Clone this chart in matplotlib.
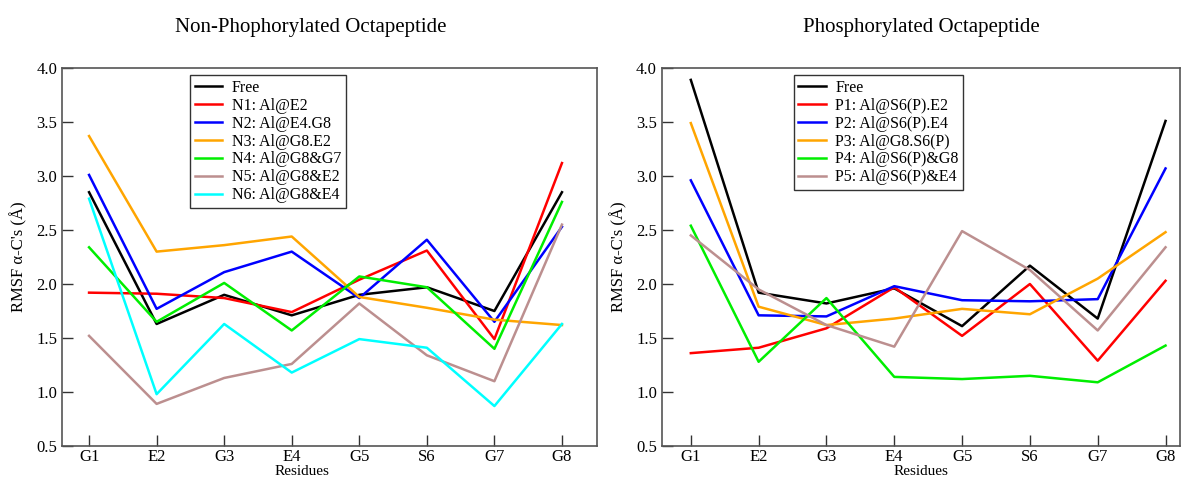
import matplotlib
matplotlib.use("Agg")
import matplotlib.pyplot as plt

plt.rcParams['font.family'] = ['Liberation Serif', 'DejaVu Serif']

residues = ["G1", "E2", "G3", "E4", "G5", "S6", "G7", "G8"]

# non-phosphorylated
free_n = [2.85, 1.63, 1.90, 1.71, 1.90, 1.97, 1.75, 2.85]
n1 = [1.92, 1.91, 1.87, 1.74, 2.04, 2.31, 1.49, 3.12]
n2 = [3.01, 1.77, 2.11, 2.30, 1.87, 2.41, 1.65, 2.53]
n3 = [3.37, 2.30, 2.36, 2.44, 1.88, 1.78, 1.67, 1.62]
n4 = [2.34, 1.65, 2.01, 1.57, 2.07, 1.97, 1.40, 2.76]
n5 = [1.52, 0.89, 1.13, 1.26, 1.82, 1.34, 1.10, 2.55]
n6 = [2.79, 0.98, 1.63, 1.18, 1.49, 1.41, 0.87, 1.63]

# phosphorylated
free_p = [3.89, 1.92, 1.82, 1.96, 1.61, 2.17, 1.68, 3.51]
p1 = [1.36, 1.41, 1.59, 1.97, 1.52, 2.00, 1.29, 2.03]
p2 = [2.96, 1.71, 1.70, 1.98, 1.85, 1.84, 1.86, 3.07]
p3 = [3.49, 1.79, 1.62, 1.68, 1.77, 1.72, 2.05, 2.48]
p4 = [2.54, 1.28, 1.87, 1.14, 1.12, 1.15, 1.09, 1.43]
p5 = [2.45, 1.95, 1.62, 1.42, 2.49, 2.13, 1.57, 2.34]

labels_n = ["Free", "N1: Al@E2", "N2: Al@E4.G8", "N3: Al@G8.E2",
            "N4: Al@G8&G7", "N5: Al@G8&E2", "N6: Al@G8&E4"]
labels_p = ["Free", "P1: Al@S6(P).E2", "P2: Al@S6(P).E4", "P3: Al@G8.S6(P)",
            "P4: Al@S6(P)&G8", "P5: Al@S6(P)&E4"]
colors = ["black", "#ff0000", "#0000ff", "#ffa500", "#00ee00", "#bc8f8f", "#00ffff"]

x = list(range(1, len(residues) + 1))

fig = plt.figure(figsize=(11.84, 4.8), dpi=100)
ax1 = fig.add_axes([0.0524, 0.0708, 0.4519, 0.7875])
ax2 = fig.add_axes([0.559, 0.0708, 0.438, 0.7875])


def style(ax, xlim):
    ax.set_xlim(*xlim)
    ax.set_ylim(0.5, 4.0)
    ax.set_xticks(x)
    ax.set_xticklabels(residues)
    ax.set_yticks([0.5, 1.0, 1.5, 2.0, 2.5, 3.0, 3.5, 4.0])
    ax.tick_params(direction='in', length=8, width=1, labelsize=12,
                   top=False, right=False, color='#333333')
    ax.tick_params(axis='x', pad=2)
    for s in ax.spines.values():
        s.set_color('#555555')
        s.set_linewidth(1.2)
    ax.set_ylabel("RMSF α-C's (Å)", fontsize=12, labelpad=6)


def add_legend(ax, left):
    ax.legend(loc='upper left', bbox_to_anchor=(left, 0.99), fontsize=11.5,
              frameon=True, fancybox=False, edgecolor='#333333', framealpha=1,
              handlelength=1.7, labelspacing=0.12, borderpad=0.3,
              handletextpad=0.6, borderaxespad=0.2)


for ys, lab, c in zip([free_n, n1, n2, n3, n4, n5, n6], labels_n, colors):
    ax1.plot(x, ys, color=c, lw=1.8, label=lab)
style(ax1, (0.6, 8.52))
ax1.set_title("Non-Phophorylated Octapeptide", fontsize=15, x=0.464, pad=26)
ax1.set_xlabel("Residues", fontsize=11)
ax1.xaxis.set_label_coords(0.448, -0.051)
add_legend(ax1, 0.234)

for ys, lab, c in zip([free_p, p1, p2, p3, p4, p5], labels_p, colors):
    ax2.plot(x, ys, color=c, lw=1.8, label=lab)
style(ax2, (0.573, 8.22))
ax2.set_title("Phosphorylated Octapeptide", fontsize=15, pad=26)
ax2.set_xlabel("Residues", fontsize=11)
ax2.xaxis.set_label_coords(0.5, -0.051)
add_legend(ax2, 0.248)

fig.savefig("out.png", dpi=100)
